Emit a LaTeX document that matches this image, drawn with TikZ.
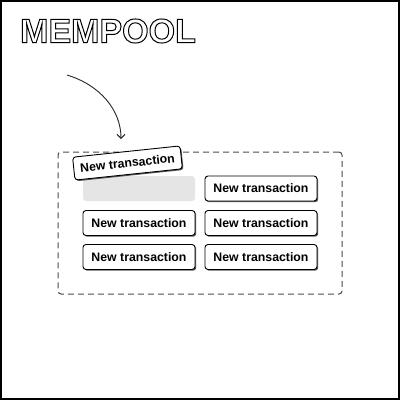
\documentclass[tikz,border=0pt]{standalone}
\usepackage{fontspec}
\setmainfont{Liberation Sans}
\usetikzlibrary{arrows.meta,shadows}
\definecolor{placeholder}{HTML}{E5E5E5}
\definecolor{dashgray}{HTML}{4A4A4A}
\newcommand{\outlinetext}[1]{\special{pdf:literal direct 1 Tr 1 w}#1\special{pdf:literal direct 0 Tr}}
\begin{document}
\begin{tikzpicture}[x=1pt,y=-1pt,
  txbox/.style={draw=black, line width=0.9pt, rounded corners=3pt, fill=white,
    minimum width=112pt, minimum height=25pt, inner sep=0pt,
    font=\fontsize{12.3}{14}\selectfont\bfseries,
    drop shadow={shadow xshift=1.2pt, shadow yshift=-1.2pt, fill=black!65, opacity=1}},
  phbox/.style={fill=placeholder, rounded corners=3pt, minimum width=112pt, minimum height=25pt, inner sep=0pt},
  poolbox/.style={draw=dashgray, line width=1pt, dash pattern=on 6pt off 4pt, rounded corners=3pt,
    minimum width=284pt, minimum height=142pt, inner sep=0pt},
  titlestyle/.style={font=\fontsize{34}{40}\selectfont\bfseries, inner sep=0pt},
  arrowline/.style={draw=black!85, line width=0.9pt, -{Straight Barb[length=4pt,width=8pt]}}
]
\useasboundingbox (0,0) rectangle (400,400);
\draw[line width=2pt] (1,1) rectangle (399,399);
\node[titlestyle, anchor=west] (title) at (20,31) {\outlinetext{MEMPOOL}};
\node[poolbox] (pool) at (200,223) {};
\node[phbox] (p) at (139,188.5) {};
\node[txbox] (t1) at (261,188.5) {New transaction};
\node[txbox] (t2) at (139,223) {New transaction};
\node[txbox] (t3) at (261,223) {New transaction};
\node[txbox] (t4) at (139,257) {New transaction};
\node[txbox] (t5) at (261,257) {New transaction};
\node[txbox, rotate=6, minimum width=108pt, minimum height=23pt] (tilt) at (127.5,163) {New transaction};
\coordinate (astart) at (67,75);
\coordinate (aend) at (121,139);
\draw[arrowline] (astart) .. controls (100,85) and (121,110) .. (aend);
\end{tikzpicture}
\end{document}
